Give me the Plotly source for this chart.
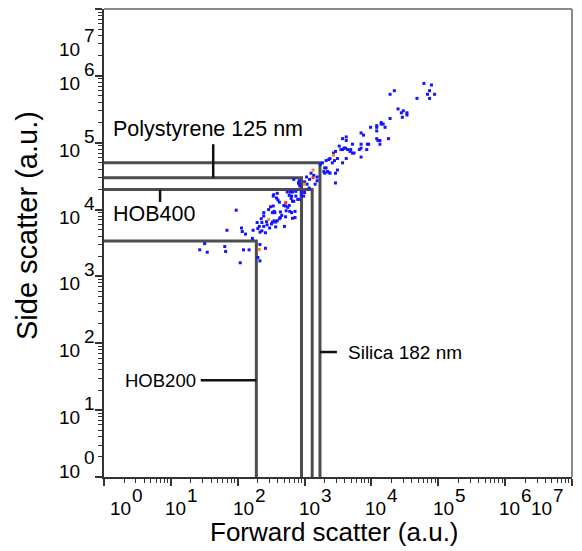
import plotly.graph_objects as go

# Individual events: forward scatter / side scatter (a.u.)
fsc_events = [
    61000, 79000, 74000, 69000, 88000, 48000, 74000, 22000, 19000, 25000,
    30000, 28000, 34000, 34000, 29000, 19000, 14000, 15000, 14000, 12000,
    12000, 9700, 16000, 12000, 7000, 7600, 12000, 12500, 13400, 18000,
    13400, 7000, 8700, 9100, 7000, 6600, 8500, 7000, 4200, 3700,
    4200, 5200, 3300, 3900, 4100, 3700, 4400, 4900, 3500, 5200,
    5500, 4800, 2900, 2700, 4200, 3100, 2800, 2400, 2100, 2600,
    3700, 3100, 1850, 1730, 2000, 2100, 1940, 2000, 2200, 2400,
    2900, 2900, 1250, 1370, 1540, 1190, 1540, 1070, 830, 690,
    830, 850, 1440, 1170, 2300, 2300, 1000, 1090, 810, 1000,
    740, 890, 550, 610, 660, 590, 640, 630, 660, 690,
    790, 830, 740, 890, 970, 340, 345, 390, 380, 400,
    420, 490, 520, 560, 590, 530, 340, 310, 290, 350,
    360, 330, 435, 600, 640, 720, 720, 660, 455, 435,
    420, 390, 370, 350, 330, 320, 270, 245, 230, 210,
    200, 195, 275, 300, 370, 245, 245, 225, 215, 230,
    260, 500, 520, 95, 114, 117, 131, 170, 69, 166,
    32, 27, 35, 64, 66, 122, 148, 215, 260, 200,
    215, 109,
]
ssc_events = [
    770000, 730000, 600000, 530000, 530000, 460000, 460000, 600000, 530000, 320000,
    300000, 280000, 280000, 260000, 240000, 230000, 200000, 190000, 190000, 180000,
    170000, 170000, 170000, 150000, 140000, 130000, 115000, 108000, 108000, 115000,
    95000, 95000, 95000, 95000, 83000, 79000, 79000, 61000, 122000, 115000,
    108000, 95000, 89000, 83000, 83000, 79000, 79000, 79000, 79000, 70000,
    70000, 74000, 74000, 70000, 58000, 58000, 54000, 58000, 54000, 50000,
    50000, 39000, 50000, 47500, 42000, 42000, 37000, 35000, 37000, 35000,
    35000, 25000, 35000, 32500, 30700, 28300, 27000, 30700, 27000, 28300,
    24000, 22500, 24000, 21000, 56000, 36000, 26000, 24000, 25000, 18000,
    18700, 18300, 18300, 18300, 18300, 16300, 15900, 14600, 13300, 13300,
    14200, 14200, 15900, 16300, 15900, 15900, 16700, 17500, 14900, 13900,
    12900, 11500, 11300, 10800, 11500, 9600, 11300, 11000, 10000, 9400,
    9000, 9000, 9200, 9400, 9000, 9400, 7600, 7400, 8200, 7600,
    7300, 6800, 6500, 6800, 6500, 6100, 6600, 5600, 6400, 5600,
    5200, 6400, 5900, 5300, 5500, 8000, 9000, 7300, 4600, 4800,
    4500, 5600, 7800, 9800, 5300, 4700, 4300, 4900, 4900, 3700,
    3100, 2500, 2300, 2800, 2360, 2500, 2500, 3000, 2640, 1920,
    1710, 1600,
]

# Highlighted events
fsc_highlight = [2700, 1340, 1000, 290, 210]
ssc_highlight = [65000, 39000, 24000, 7100, 2530]
fsc_coincident = [1340, 520]
ssc_coincident = [30000, 12700]

# Reference particle gates (upper-right corner of each gate, a.u.)
gate_names = ["Silica 182 nm", "Polystyrene 125 nm", "HOB400", "HOB200"]
gate_fsc = [1700, 900, 1300, 190]
gate_ssc = [50000, 30000, 20000, 3400]

# Leader lines from the gate labels: (x0, y0, x1, y1)
leaders = [
    (1700, 74, 3050, 74),        # Silica 182 nm
    (43, 30000, 43, 95000),      # Polystyrene 125 nm
    (6.9, 20000, 6.9, 13000),    # HOB400
    (28, 28, 190, 28),           # HOB200
]

decades = [0, 1, 2, 3, 4, 5, 6, 7]

FONT = "Liberation Sans, Arial, sans-serif"
AXIS_COLOR = "#333333"
FRAME_COLOR = "#8a8a8a"
GATE_COLOR = "#4d4d4d"

W, H = 582, 551
L, R, T, B = 104, 10, 9, 74
PW = W - L - R
PH = H - T - B

fig = go.Figure()

# gate boxes (top and right edges; left/bottom sit on the axes)
for name, gx, gy in zip(gate_names, gate_fsc, gate_ssc):
    fig.add_trace(go.Scatter(
        x=[1, gx, gx], y=[gy, gy, 1], mode="lines",
        line=dict(color=GATE_COLOR, width=3), name=name,
        hoverinfo="skip", showlegend=False,
    ))

MARK = dict(symbol="square", size=3, line=dict(width=0))
fig.add_trace(go.Scatter(x=fsc_events, y=ssc_events, mode="markers",
                         marker=dict(MARK, color="#1414ff"), showlegend=False))
fig.add_trace(go.Scatter(x=fsc_highlight, y=ssc_highlight, mode="markers",
                         marker=dict(MARK, color="#ff8a1e"), showlegend=False))
fig.add_trace(go.Scatter(x=fsc_coincident, y=ssc_coincident, mode="markers",
                         marker=dict(MARK, color="#ff2a2a"), showlegend=False))

shapes = []
for x0, y0, x1, y1 in leaders:
    shapes.append(dict(type="line", xref="x", yref="y", x0=x0, y0=y0, x1=x1, y1=y1,
                       line=dict(color="#111111", width=2.5)))
# grey frame on the top and right
shapes.append(dict(type="line", xref="paper", yref="paper", x0=0, x1=1, y0=1, y1=1,
                   line=dict(color=FRAME_COLOR, width=2)))
shapes.append(dict(type="line", xref="paper", yref="paper", x0=1, x1=1, y0=0, y1=1,
                   line=dict(color=FRAME_COLOR, width=2)))

annotations = []
TICKFONT = dict(family=FONT, size=19, color="black")

# x tick labels: "10" with a full-size exponent
x_nudge = [6, -6, -5, -6, -6, -5, -6, -41]
for k, dx in zip(decades, x_nudge):
    annotations.append(dict(text="10", x=k, xref="x", y=0, yref="paper",
                            xanchor="left", yanchor="middle", xshift=dx - 2, yshift=-31,
                            height=18, showarrow=False, font=TICKFONT))
    annotations.append(dict(text=str(k), x=k, xref="x", y=0, yref="paper",
                            xanchor="left", yanchor="middle", xshift=dx + 20, yshift=-18,
                            height=16, showarrow=False, font=TICKFONT))

# y tick labels
y_nudge = {0: 13, 7: -33}
for k in decades:
    dy = y_nudge.get(k, 0)
    annotations.append(dict(text="10", x=0, xref="paper", y=k, yref="y",
                            xanchor="right", yanchor="middle", xshift=-22, yshift=-7 + dy,
                            height=18, showarrow=False, font=TICKFONT))
    annotations.append(dict(text=str(k), x=0, xref="paper", y=k, yref="y",
                            xanchor="left", yanchor="middle", xshift=-22, yshift=7 + dy,
                            height=16, showarrow=False, font=TICKFONT))

# gate labels: (pixel anchor x, pixel anchor y, anchor side, font size)
label_style = {
    "Silica 182 nm": (346, 352, "left", 19),
    "Polystyrene 125 nm": (111, 129, "left", 21.5),
    "HOB400": (111, 214, "left", 21.5),
    "HOB200": (198, 380, "right", 18.5),
}
for name in gate_names:
    px, py, side, fs = label_style[name]
    annotations.append(dict(text=name, x=(px - L) / PW, y=(H - B - py) / PH,
                            xref="paper", yref="paper", xanchor=side, yanchor="middle",
                            showarrow=False, font=dict(family=FONT, size=fs, color="black")))

TITLEFONT = dict(family=FONT, size=26, color="black")
annotations.append(dict(text="Forward scatter (a.u.)", x=(334 - L) / PW, y=0,
                        xref="paper", yref="paper", xanchor="center", yanchor="middle",
                        yshift=-55, height=28, showarrow=False, font=TITLEFONT))
annotations.append(dict(text="Side scatter (a.u.)", x=0, y=(H - B - 226) / PH,
                        xref="paper", yref="paper", xanchor="center", yanchor="middle",
                        xshift=-77, textangle=-90, showarrow=False,
                        font=dict(family=FONT, size=29, color="black")))

axis_common = dict(
    type="log", range=[0, 7], dtick=1, showgrid=False, zeroline=False,
    showline=True, linecolor=AXIS_COLOR, linewidth=2,
    ticks="outside", ticklen=7, tickwidth=1.5, tickcolor=AXIS_COLOR,
    showticklabels=False,
    minor=dict(ticks="outside", ticklen=4, tickwidth=1, tickcolor=AXIS_COLOR, showgrid=False),
)

fig.update_layout(
    width=W, height=H,
    margin=dict(l=L, r=R, t=T, b=B),
    paper_bgcolor="white", plot_bgcolor="white",
    xaxis=axis_common, yaxis=axis_common,
    shapes=shapes, annotations=annotations,
    showlegend=False,
)

fig.write_html("out.html")
